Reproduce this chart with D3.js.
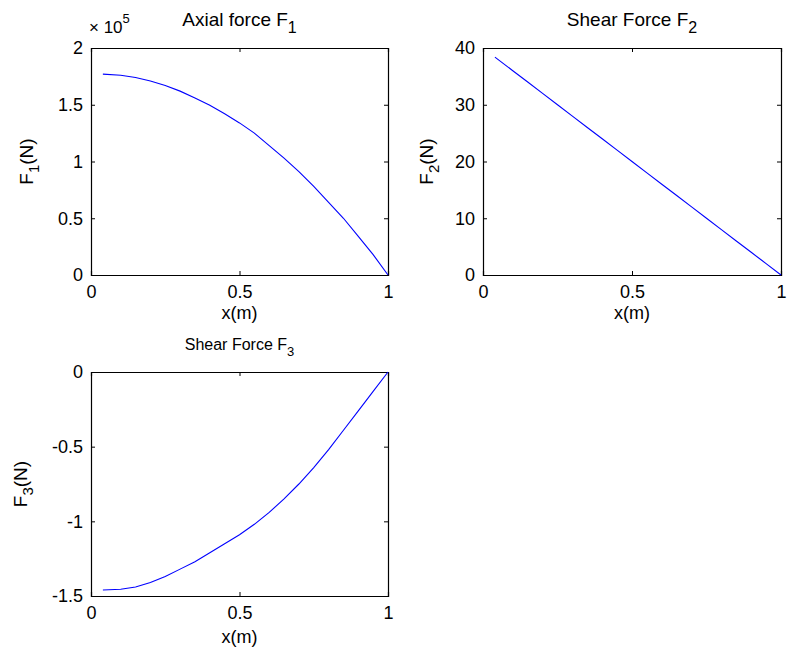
<!DOCTYPE html>
<html>
<head>
<meta charset="utf-8">
<script src="https://cdn.jsdelivr.net/npm/d3@7"></script>
<style>
  body { margin: 0; background: #fff; }
  text { font-family: "Liberation Sans", Arial, sans-serif; fill: #000; }
</style>
</head>
<body>
<svg id="chart"></svg>
<script>
// values
const xs = [0.04, 0.1, 0.15, 0.2, 0.25, 0.3, 0.35, 0.4, 0.45, 0.5, 0.55, 0.6, 0.65, 0.7, 0.75, 0.8, 0.85, 0.9, 0.95, 1.0]
const f1 = [1.77, 1.76, 1.74, 1.71, 1.67, 1.62, 1.56, 1.495, 1.42, 1.34, 1.25, 1.14, 1.03, 0.91, 0.78, 0.64, 0.50, 0.34, 0.18, 0]  // x 1e5
const f2 = [38.4, 36.0, 34.0, 32.0, 30.0, 28.0, 26.0, 24.0, 22.0, 20.0, 18.0, 16.0, 14.0, 12.0, 10.0, 8.0, 6.0, 4.0, 2.0, 0]
const f3 = [-1.46, -1.455, -1.44, -1.41, -1.37, -1.32, -1.27, -1.21, -1.15, -1.09, -1.02, -0.94, -0.85, -0.75, -0.64, -0.52, -0.39, -0.26, -0.13, 0]
const xTicks = [0, 0.5, 1]
const f1Ticks = [0, 0.5, 1, 1.5, 2]
const f2Ticks = [0, 10, 20, 30, 40]
const f3Ticks = [-1.5, -1, -0.5, 0]

const w = 789, h = 652
const svg = d3.select('#chart').attr('width', w).attr('height', h)
const fmt = d => d < 0 ? '-' + Math.abs(d) : '' + d
const font = '"Liberation Sans", Arial, sans-serif'

function panel(box, ydom, yticks, ys, opt) {
  const x = d3.scaleLinear().domain([0, 1]).range([box.x0, box.x1])
  const y = d3.scaleLinear().domain(ydom).range([box.y1, box.y0])
  const g = svg.append('g')
  const tk = 4
  // axes, ticks inward on all sides
  const bx = g.append('g').attr('transform', `translate(0,${box.y1})`)
    .call(d3.axisBottom(x).tickValues(xTicks).tickFormat(fmt).tickSize(-tk).tickPadding(10))
  const lx = g.append('g').attr('transform', `translate(${box.x0},0)`)
    .call(d3.axisLeft(y).tickValues(yticks).tickFormat(fmt).tickSize(-tk).tickPadding(8))
  g.append('g').attr('transform', `translate(0,${box.y0})`)
    .call(d3.axisTop(x).tickValues(xTicks).tickSize(-tk))
    .selectAll('.tick text').remove()
  g.append('g').attr('transform', `translate(${box.x1},0)`)
    .call(d3.axisRight(y).tickValues(yticks).tickSize(-tk))
    .selectAll('.tick text').remove()
  g.selectAll('.domain').attr('stroke', '#000').attr('stroke-width', 1.2)
  g.selectAll('.tick line').attr('stroke', '#000')
  bx.selectAll('.tick text').style('font-size', '18px').style('font-family', font)
  lx.selectAll('.tick text').style('font-size', '18px').style('font-family', font)

  g.append('path').datum(xs.map((d, i) => [d, ys[i]]))
    .attr('fill', 'none').attr('stroke', '#0000ff').attr('stroke-width', 1.1)
    .attr('d', d3.line().x(d => x(d[0])).y(d => y(d[1])))

  const cx = (box.x0 + box.x1) / 2
  const t = g.append('text').attr('x', cx).attr('y', opt.titleY)
    .attr('text-anchor', 'middle').style('font-size', opt.titleSize + 'px')
  t.append('tspan').text(opt.title + ' F')
  t.append('tspan').attr('dy', opt.titleSize * 0.38).style('font-size', (opt.titleSize - 3) + 'px').text(opt.sub)

  g.append('text').attr('x', cx).attr('y', opt.xlabY).attr('text-anchor', 'middle')
    .style('font-size', '18px').text('x(m)')

  const yl = g.append('text').attr('transform', `translate(${opt.ylabX},${(box.y0 + box.y1) / 2}) rotate(-90)`)
    .attr('text-anchor', 'middle').style('font-size', '19px')
  yl.append('tspan').text('F')
  yl.append('tspan').attr('dy', 6).style('font-size', '15px').text(opt.sub)
  yl.append('tspan').attr('dy', -6).text('(N)')
  return g
}

const g1 = panel({x0: 91, x1: 388, y0: 48, y1: 275}, [0, 2], f1Ticks, f1,
  {title: 'Axial force', sub: '1', titleY: 26, titleSize: 19, xlabY: 319, ylabX: 33})
const ex = g1.append('text').attr('x', 89).attr('y', 33)
  .style('font-size', '17px').style('font-family', font)
ex.append('tspan').text('× 10')
ex.append('tspan').attr('dy', -10).style('font-size', '13px').text('5')

panel({x0: 483, x1: 781, y0: 48, y1: 275}, [0, 40], f2Ticks, f2,
  {title: 'Shear Force', sub: '2', titleY: 26, titleSize: 19, xlabY: 319, ylabX: 433})

panel({x0: 91, x1: 388, y0: 372, y1: 596}, [-1.5, 0], f3Ticks, f3,
  {title: 'Shear Force', sub: '3', titleY: 350, titleSize: 16, xlabY: 643, ylabX: 27})
</script>
</body>
</html>
